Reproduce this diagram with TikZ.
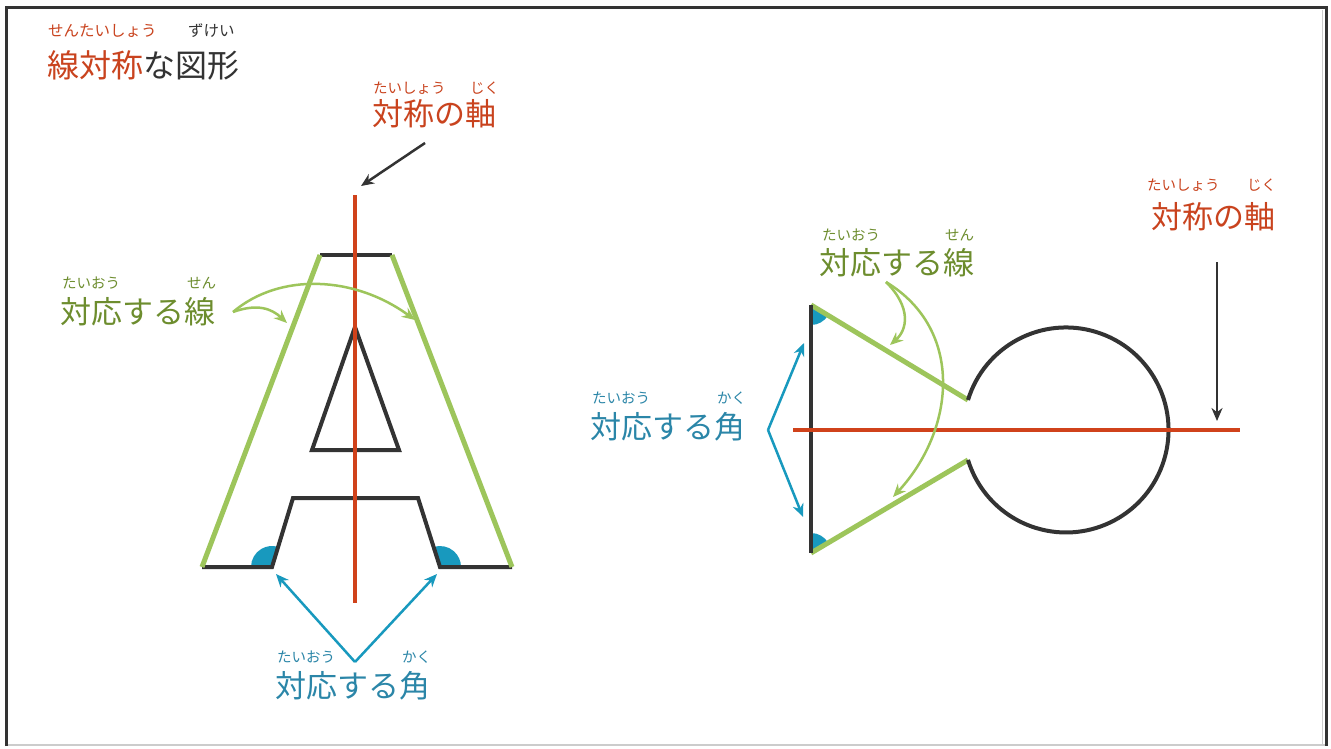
\documentclass[tikz,border=0pt]{standalone}
\usepackage{fontspec}
\setmainfont{Noto Sans CJK JP}
\usetikzlibrary{arrows.meta}
\definecolor{axisred}{HTML}{D0421B}
\definecolor{titlered}{HTML}{C9431E}
\definecolor{lgreen}{HTML}{9DC55B}
\definecolor{tgreen}{HTML}{6D8D2E}
\definecolor{lblue}{HTML}{1899BE}
\definecolor{tblue}{HTML}{2B86A8}
\definecolor{dark}{HTML}{333333}
\tikzset{
  big/.style={anchor=west,inner sep=0pt,font=\fontsize{31}{33}\selectfont},
  ruby/.style={anchor=west,inner sep=0pt,font=\fontsize{14.5}{16}\selectfont},
  blackline/.style={draw=dark,line width=4pt,line join=miter},
  greenline/.style={draw=lgreen,line width=5pt},
  axisline/.style={draw=axisred,line width=4pt},
  sector/.style={fill=lblue},
  greenarrow/.style={draw=lgreen,line width=2.5pt,-{Stealth[length=13pt,width=11pt]}},
  bluearrow/.style={draw=lblue,line width=2.5pt,-{Stealth[length=13pt,width=11pt]}},
  darkarrow/.style={draw=dark,line width=2.5pt,-{Stealth[length=13pt,width=11pt]}},
}
\begin{document}
\begin{tikzpicture}[x=1pt,y=-1pt]
\useasboundingbox (0,0) rectangle (1331,749);
\fill[white] (0,0) rectangle (1331,749);
% frame
\draw[draw=gray!40,line width=2pt] (6,745) -- (1326,745);
\draw[draw=dark,line width=3.5pt] (6.5,746) -- (6.5,7.5) -- (1326.5,7.5) -- (1326.5,746);
\draw[draw=gray!40,line width=1pt] (1322,10) -- (1322,744);

% title
\node[ruby,text=titlered,font=\fontsize{15.5}{17}\selectfont] (t1) at (48,31) {せんたいしょう};
\node[ruby,text=dark,font=\fontsize{15.5}{17}\selectfont] (t2) at (188,31) {ずけい};
\node[big,text=dark,font=\fontsize{32}{34}\selectfont] (title) at (47,65) {\textcolor{titlered}{線対称}な図形};

% ---------- Figure A ----------
\node[ruby,text=titlered] (ra1) at (373,88) {たいしょう};
\node[ruby,text=titlered] (ra2) at (470,88) {じく};
\node[big,text=titlered] (axisA) at (372,114) {対称の軸};
\coordinate (aa1) at (425,143);
\coordinate (aa2) at (361,186);
\draw[darkarrow] (aa1) -- (aa2);

% axis
\coordinate (axT) at (355,195);
\coordinate (axB) at (355,603);

% A outline points
\coordinate (A1) at (320,255);
\coordinate (A2) at (392,255);
\coordinate (A3) at (512,567);
\coordinate (A4) at (440,567);
\coordinate (A5) at (418,498);
\coordinate (A6) at (293,498);
\coordinate (A7) at (272,567);
\coordinate (A8) at (202,567);

% sectors
\fill[sector] (A7) -- ++(180:21) arc[start angle=180,end angle=287,radius=21] -- cycle;
\fill[sector] (A4) -- ++(251.6:21) arc[start angle=251.6,end angle=360,radius=21] -- cycle;

\draw[blackline] (A1) -- (A2);
\draw[blackline] (A3) -- (A4) -- (A5) -- (A6) -- (A7) -- (A8);
\draw[greenline] (A8) -- (A1);
\draw[greenline] (A2) -- (A3);
% inner triangle
\coordinate (T1) at (355,327);
\coordinate (T2) at (399,450);
\coordinate (T3) at (312,450);
\draw[blackline] (T1) -- (T2) -- (T3) -- cycle;
\draw[axisline] (axT) -- (axB);

% green label left
\node[ruby,text=tgreen] (rg1) at (62,283) {たいおう};
\node[ruby,text=tgreen] (rg2) at (187,283) {せん};
\node[big,text=tgreen] (lineA) at (60,312) {対応する線};
\coordinate (gA) at (233,312);
\coordinate (gA1) at (287,323);
\coordinate (gA2) at (415,320);
\draw[greenarrow] (gA) .. controls (258,303) and (272,309) .. (gA1);
\draw[greenarrow] (gA) .. controls (280,272) and (355,276) .. (gA2);

% blue label bottom
\node[ruby,text=tblue] (rb1) at (277,657) {たいおう};
\node[ruby,text=tblue] (rb2) at (402,657) {かく};
\node[big,text=tblue] (angA) at (275,686) {対応する角};
\coordinate (bA) at (355,662);
\coordinate (bA1) at (276,574);
\coordinate (bA2) at (437,574);
\draw[bluearrow] (bA) -- (bA1);
\draw[bluearrow] (bA) -- (bA2);

% ---------- Right figure ----------
\coordinate (V1) at (811,305);
\coordinate (V2) at (811,553);
\coordinate (G1) at (968,400);
\coordinate (G2) at (968,460);
\coordinate (C) at (1066,430);

\fill[sector] (V1) -- ++(31.2:20) arc[start angle=31.2,end angle=90,radius=20] -- cycle;
\fill[sector] (V2) -- ++(-90:20) arc[start angle=-90,end angle=-30.6,radius=20] -- cycle;

\draw[greenline] (V1) -- (G1);
\draw[greenline] (V2) -- (G2);
\draw[blackline] (G1) arc[start angle=-163,end angle=163,radius=102.5];
\draw[blackline] (V1) -- (V2);
\coordinate (axL) at (793,430);
\coordinate (axR) at (1240,430);
\draw[axisline] (axL) -- (axR);

% axis label right
\node[ruby,text=titlered] (rr1) at (1147,185) {たいしょう};
\node[ruby,text=titlered] (rr2) at (1247,185) {じく};
\node[big,text=titlered] (axisB) at (1151,217) {対称の軸};
\coordinate (ab1) at (1217,262);
\coordinate (ab2) at (1217,421);
\draw[darkarrow] (ab1) -- (ab2);

% green label right
\node[ruby,text=tgreen] (rg3) at (822,235) {たいおう};
\node[ruby,text=tgreen] (rg4) at (945,235) {せん};
\node[big,text=tgreen] (lineB) at (819,263) {対応する線};
\coordinate (gB) at (886,282);
\coordinate (gB1) at (890,345);
\coordinate (gB2) at (893,497);
\draw[greenarrow] (gB) .. controls (912,308) and (907,330) .. (gB1);
\draw[greenarrow] (gB) .. controls (965,330) and (955,430) .. (gB2);

% blue label right
\node[ruby,text=tblue] (rb3) at (592,398) {たいおう};
\node[ruby,text=tblue] (rb4) at (717,398) {かく};
\node[big,text=tblue] (angB) at (590,427) {対応する角};
\coordinate (bB) at (768,430);
\coordinate (bB1) at (804,343);
\coordinate (bB2) at (803,517);
\draw[bluearrow] (bB) -- (bB1);
\draw[bluearrow] (bB) -- (bB2);
\end{tikzpicture}
\end{document}
